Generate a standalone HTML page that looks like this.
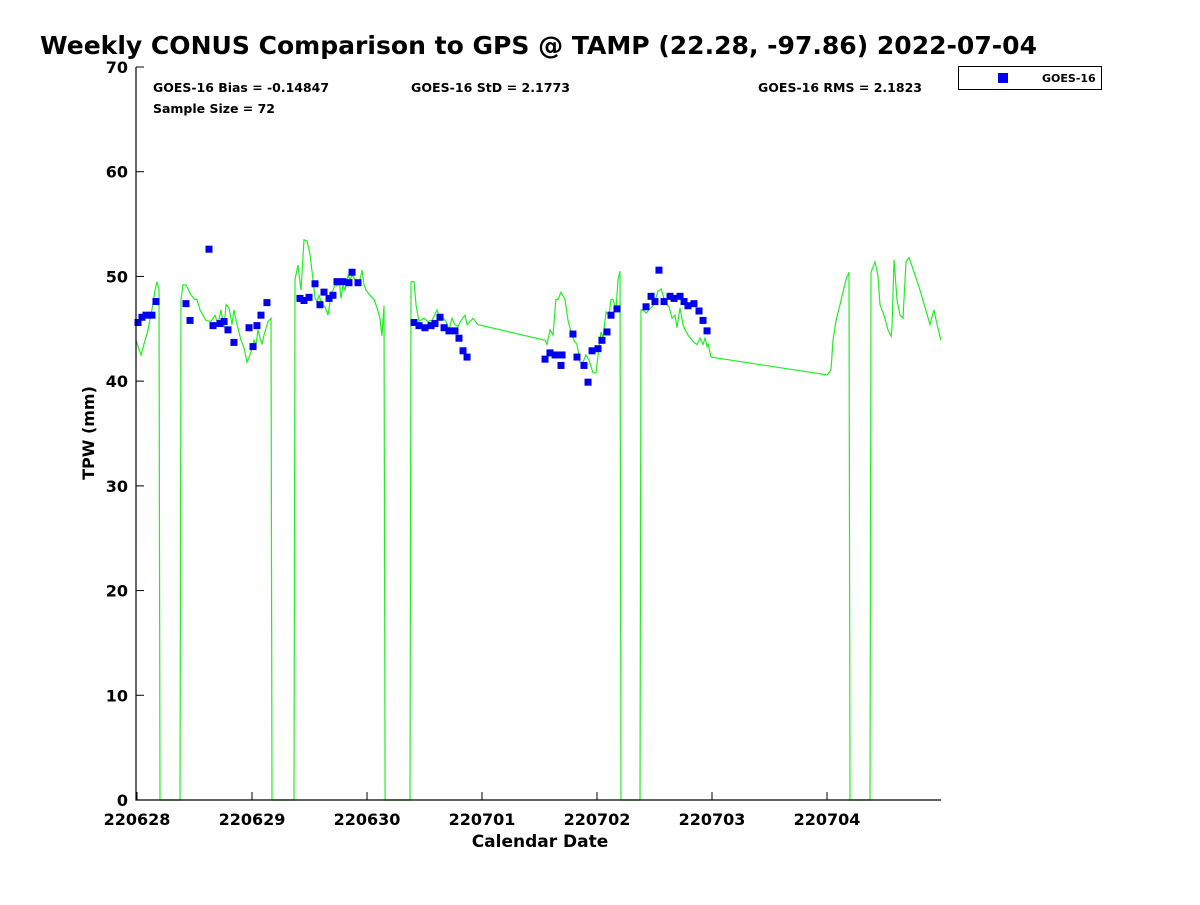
<!DOCTYPE html>
<html><head><meta charset="utf-8"><style>
body{margin:0;background:#fff;}
svg text{font-family:"DejaVu Sans","Liberation Sans",sans-serif;font-weight:bold;fill:#000;}
</style></head><body>
<svg id="chart" width="1200" height="900" xmlns="http://www.w3.org/2000/svg">
<rect width="1200" height="900" fill="#fff"/>
<text x="40" y="54" font-size="24.5" textLength="997" lengthAdjust="spacingAndGlyphs">Weekly CONUS Comparison to GPS @ TAMP (22.28, -97.86) 2022-07-04</text>
<g id="series"></g>
<g id="axes"></g>
<text x="153" y="92" font-size="12" textLength="176" lengthAdjust="spacingAndGlyphs">GOES-16 Bias = -0.14847</text>
<text x="411" y="92" font-size="12" textLength="159" lengthAdjust="spacingAndGlyphs">GOES-16 StD = 2.1773</text>
<text x="758" y="92" font-size="12" textLength="164" lengthAdjust="spacingAndGlyphs">GOES-16 RMS = 2.1823</text>
<text x="153" y="113" font-size="12" textLength="122" lengthAdjust="spacingAndGlyphs">Sample Size = 72</text>
<g>
<rect x="958.5" y="66.5" width="143" height="23" fill="#fff" stroke="#000"/>
<rect x="998" y="73" width="10" height="10" fill="#0000ee"/>
<text x="1042" y="82" font-size="11">GOES-16</text>
</g>
<text x="540" y="847" font-size="17" text-anchor="middle">Calendar Date</text>
<text transform="translate(94,433) rotate(-90)" font-size="16" text-anchor="middle">TPW (mm)</text>
</svg>
<script>
const xTickLabels=["220628","220629","220630","220701","220702","220703","220704"];
const yTicks=[0,10,20,30,40,50,60,70];
const gpsDays=[-0.009,.035,.070,.096,.130,.157,.174,.191,.200,
.374,.383,.400,.426,.470,.504,.522,.548,.600,.643,.678,.704,.730,.757,.774,.800,.826,.843,.870,.904,.930,.957,.991,1.017,1.035,1.052,1.070,1.087,1.104,1.139,1.165,1.174,
1.365,1.374,1.400,1.417,1.426,1.452,1.478,1.504,1.530,1.548,1.565,1.583,1.609,1.635,1.661,1.687,1.704,1.722,1.739,1.757,1.774,1.791,1.809,1.835,1.852,1.870,1.887,1.904,1.939,1.957,1.974,1.991,2.026,2.061,2.087,2.113,2.130,2.148,2.157,
2.374,2.383,2.409,2.426,2.452,2.496,2.530,2.565,2.609,2.635,2.661,2.687,2.713,2.739,2.765,2.791,2.817,2.852,2.870,2.896,2.922,2.965,
3.548,3.565,3.591,3.617,3.643,3.661,3.687,3.722,3.748,3.774,3.800,3.826,3.852,3.878,3.904,3.930,3.965,3.991,4.017,4.035,4.052,4.078,4.104,4.122,4.139,4.165,4.183,4.200,4.209,
4.374,4.383,4.400,4.426,4.452,4.496,4.530,4.557,4.583,4.609,4.626,4.652,4.678,4.696,4.722,4.748,4.765,4.791,4.843,4.870,4.896,4.922,4.939,4.957,4.965,4.991,
6.000,6.017,6.035,6.052,6.078,6.113,6.139,6.165,6.191,6.200,
6.374,6.383,6.417,6.443,6.461,6.496,6.530,6.557,6.565,6.583,6.609,6.635,6.661,6.687,6.713,6.757,6.809,6.896,6.930,6.957,6.991];
const gpsVals=[43.9,42.5,43.9,44.9,46.8,48.7,49.5,48.7,0,
0,47.8,49.2,49.2,48.2,47.8,47.8,46.8,45.8,45.7,46.3,45.4,46.8,45.1,47.3,47.0,45.4,46.8,45.4,43.9,43.2,41.8,42.8,43.9,43.5,44.9,44.1,43.5,44.4,45.7,46.0,0,
0,49.7,51.1,49.4,48.7,53.5,53.4,52.1,49.7,47.9,47.6,48.2,47.3,47.1,46.3,48.2,48.7,49.2,49.1,49.7,47.9,49.2,48.7,50.1,49.7,50.1,49.9,49.4,49.7,50.6,49.2,48.7,48.2,47.8,47.0,46.0,44.3,47.2,0,
0,49.5,49.5,47.3,45.7,46.0,45.7,45.8,46.8,46.0,46.0,45.7,44.9,46.0,45.4,45.2,45.8,46.3,45.4,45.7,46.0,45.4,
43.9,43.5,44.9,44.4,47.8,47.8,48.5,47.8,45.8,44.7,43.9,43.5,41.8,41.8,42.5,42.0,40.8,40.8,43.2,44.7,44.1,46.6,46.3,47.8,47.8,46.8,49.7,50.5,0,
0,46.8,46.8,46.5,46.8,47.3,48.6,48.8,47.9,47.3,47.1,46.0,46.3,45.1,47.0,45.4,44.9,44.4,43.7,43.5,44.1,43.5,44.1,43.3,43.6,42.3,
40.6,40.8,41.1,43.9,45.8,47.3,48.5,49.7,50.4,0,
0,50.4,51.4,50.1,47.3,46.3,44.9,44.3,45.1,51.6,47.8,46.3,46.0,51.4,51.8,50.4,48.7,45.4,46.8,45.4,43.9];
const goesDays=[.009,.043,.078,.130,.165,.426,.461,.626,.661,.722,.757,.791,.843,.974,1.009,1.043,1.078,1.130,1.417,1.452,1.496,1.548,1.591,1.626,1.670,1.704,1.739,1.791,1.843,1.870,1.922,
2.409,2.452,2.504,2.557,2.591,2.635,2.670,2.713,2.765,2.800,2.835,2.870,
3.548,3.591,3.635,3.687,3.696,3.791,3.826,3.887,3.922,3.957,4.009,4.043,4.087,4.122,4.174,4.426,4.470,4.504,4.539,4.583,4.635,4.670,4.722,4.757,4.791,4.843,4.887,4.922,4.957];
const goesVals=[45.6,46.1,46.3,46.3,47.6,47.4,45.8,52.6,45.3,45.5,45.7,44.9,43.7,45.1,43.3,45.3,46.3,47.5,47.9,47.7,48.0,49.3,47.3,48.5,47.9,48.2,49.5,49.5,49.4,50.4,49.4,
45.6,45.3,45.1,45.3,45.5,46.1,45.1,44.8,44.8,44.1,42.9,42.3,
42.1,42.7,42.5,41.5,42.5,44.5,42.3,41.5,39.9,42.9,43.1,43.9,44.7,46.3,46.9,47.1,48.1,47.6,50.6,47.6,48.1,47.9,48.1,47.6,47.2,47.4,46.7,45.8,44.8];

const NS="http://www.w3.org/2000/svg";
const X0=137,DX=115,Y0=800,DY=733/70,L=136,R=941,T=67;
const xs=d=>X0+d*DX, ys=v=>Y0-v*DY;
const axes=document.getElementById('axes'), ser=document.getElementById('series');
function mk(tag,attrs,parent){const e=document.createElementNS(NS,tag);for(const k in attrs)e.setAttribute(k,attrs[k]);parent.appendChild(e);return e;}
const pts=gpsDays.map((d,i)=>xs(d).toFixed(1)+','+ys(gpsVals[i]).toFixed(1)).join(' ');
const line=mk('polyline',{points:pts,fill:'none',stroke:'#22ee22','stroke-width':1.2},ser);


goesDays.forEach((d,i)=>{
  const r=mk('rect',{x:xs(d)-3.5,y:ys(goesVals[i])-3.5,width:7,height:7,fill:'#0000ee'},ser);
  
  
});
const frame=mk('path',{d:`M${L},${T}V${Y0}H${R}`,fill:'none',stroke:'#000','stroke-width':1.2},axes);


yTicks.forEach(v=>{
  const y=ys(v);
  const t=mk('line',{x1:L,x2:L+8,y1:y,y2:y,stroke:'#000'},axes);
  
  
  const tx=mk('text',{x:L-8,y:y+6,'font-size':16,'text-anchor':'end'},axes);
  tx.textContent=v;
  
  
});
xTickLabels.forEach((lab,i)=>{
  const x=xs(i);
  const t=mk('line',{x1:x,x2:x,y1:Y0,y2:Y0-8,stroke:'#000'},axes);
  
  
  const tx=mk('text',{x:x,y:Y0+25,'font-size':16,'text-anchor':'middle'},axes);
  tx.textContent=lab;
  
  
});
</script>
</body></html>
